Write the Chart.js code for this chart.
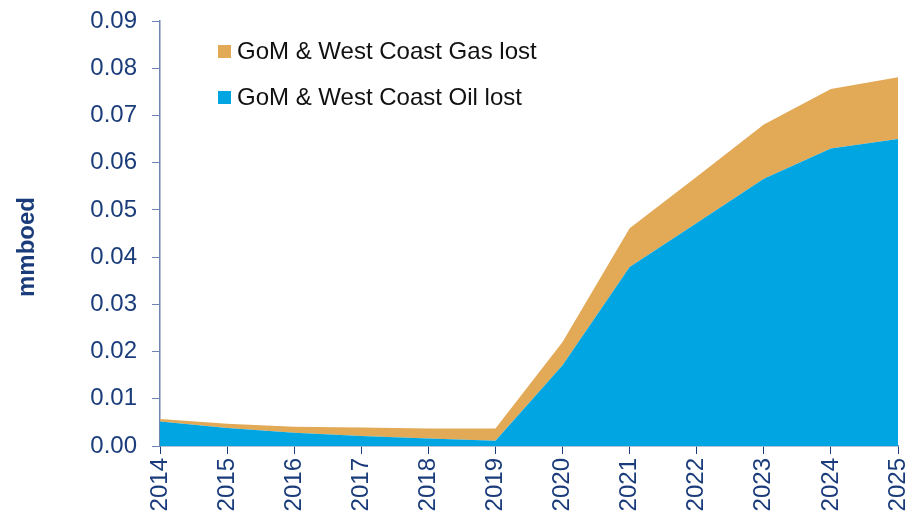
<!DOCTYPE html>
<html>
<head>
<meta charset="utf-8">
<script src="https://cdn.jsdelivr.net/npm/chart.js@4/dist/chart.umd.min.js"></script>
<style>
  html, body { margin: 0; padding: 0; background: #fff; }
  #wrap { position: relative; width: 911px; height: 522px; }
  #legend { position: absolute; left: 218px; top: 28px; font-family: "Liberation Sans", Arial, sans-serif; font-size: 24px; color: #111; }
  #legend div { display: flex; align-items: center; height: 46px; }
  #legend span.sw { display: inline-block; width: 13px; height: 13px; margin-right: 6px; }
</style>
</head>
<body>
<div id="wrap">
  <canvas id="c" width="911" height="522"></canvas>
  <div id="legend"></div>
</div>
<script>
// years on the x axis
const years = ['2014','2015','2016','2017','2018','2019','2020','2021','2022','2023','2024','2025'];
// mmboed, stacked: oil at the bottom, gas on top
const oilLost = [0.0052, 0.0038, 0.0028, 0.0021, 0.0016, 0.0011, 0.0171, 0.0379, 0.0472, 0.0566, 0.0630, 0.0650];
const gasLost = [0.0005, 0.0009, 0.0013, 0.0018, 0.0021, 0.0026, 0.0049, 0.0082, 0.0098, 0.0115, 0.0126, 0.0131];
const yTicks  = [0, 0.01, 0.02, 0.03, 0.04, 0.05, 0.06, 0.07, 0.08, 0.09];

const OIL = '#00a5e1';
const GAS = '#e2a957';
const INK = '#1b3c7b';
const AXIS = '#6f84b0';
const FONT = '"Liberation Sans", Arial, sans-serif';

const datasets = [
  { label: 'GoM & West Coast Oil lost', data: oilLost, backgroundColor: OIL, borderWidth: 0, pointRadius: 0, fill: 'origin', tension: 0 },
  { label: 'GoM & West Coast Gas lost', data: gasLost, backgroundColor: GAS, borderWidth: 0, pointRadius: 0, fill: '-1', tension: 0 },
];

// legend: gas listed first
document.getElementById('legend').innerHTML = [datasets[1], datasets[0]].map(d =>
  `<div><span class="sw" style="background:${d.backgroundColor}"></span>${d.label}</div>`).join('');

// y axis title, drawn by hand so it sits where the original has it
const yTitle = {
  id: 'yTitle',
  afterDraw(chart) {
    const ctx = chart.ctx;
    ctx.save();
    ctx.translate(27, 247);
    ctx.rotate(-Math.PI / 2);
    ctx.fillStyle = INK;
    ctx.font = `bold 24px ${FONT}`;
    ctx.textAlign = 'center';
    ctx.textBaseline = 'middle';
    ctx.fillText('mmboed', 0, 0);
    ctx.restore();
  }
};

new Chart(document.getElementById('c').getContext('2d'), {
  type: 'line',
  data: { labels: years, datasets },
  plugins: [yTitle],
  options: {
    responsive: false,
    animation: false,
    layout: { padding: { top: 21, right: 13, left: 0, bottom: 0 } },
    plugins: { legend: { display: false }, tooltip: { enabled: false } },
    scales: {
      x: {
        offset: false,
        grid: { drawOnChartArea: false, color: AXIS, tickLength: 8, tickColor: INK },
        border: { color: AXIS, width: 1.5 },
        ticks: { color: INK, minRotation: 90, maxRotation: 90, padding: 4, font: { family: FONT, size: 24 } },
        afterFit: s => { s.height = 76; s.paddingLeft = 0; s.paddingRight = 0; },
      },
      y: {
        stacked: true,
        min: 0, max: 0.09,
        afterBuildTicks: s => { s.ticks = yTicks.map(v => ({ value: v })); },
        grid: { drawOnChartArea: false, color: AXIS, tickLength: 8 },
        border: { color: AXIS, width: 1.5 },
        ticks: { color: INK, padding: 15, font: { family: FONT, size: 24 }, callback: v => v.toFixed(2) },
        afterFit: s => { s.width = 160; s.paddingTop = 0; s.paddingBottom = 0; },
      },
    },
  },
});
</script>
</body>
</html>
